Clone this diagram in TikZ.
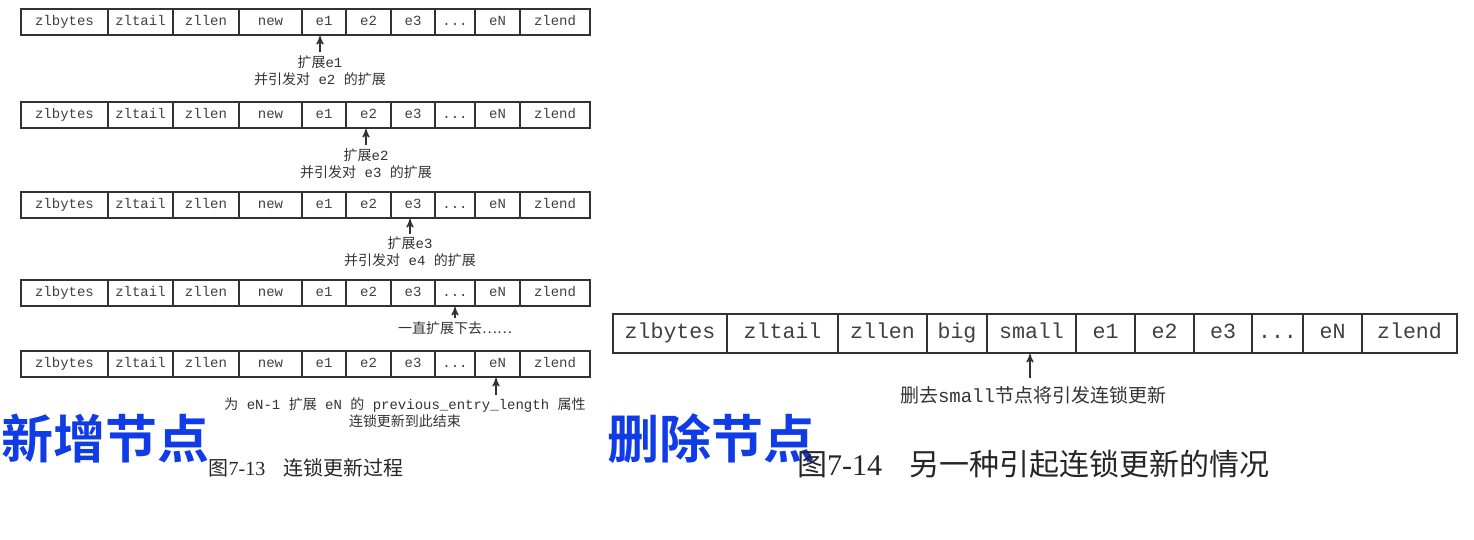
\documentclass[tikz,border=0pt]{standalone}
\usepackage{fontspec}
\setmainfont{Liberation Serif}
\setmonofont{Liberation Mono}
\newfontfamily\cjk[BoldFont={Noto Sans CJK SC Bold}]{Noto Sans CJK SC}
\usetikzlibrary{arrows}
\usetikzlibrary{positioning}

\definecolor{linegray}{RGB}{50,50,50}
\definecolor{titleblue}{RGB}{15,60,230}

\newcommand{\zh}[1]{{\cjk #1}}
\newcommand{\mdots}{.{}.{}.}

\tikzset{
  cell/.style={draw=linegray,line width=1pt,rectangle,inner sep=0pt,anchor=west,
    minimum height=13pt,text height=5pt,text depth=1.5pt,
    font=\ttfamily\fontsize{7}{8}\selectfont,text=black!75},
  bigcell/.style={cell,minimum height=19.5pt,text height=7.6pt,text depth=2.2pt,
    font=\ttfamily\fontsize{10.8}{12}\selectfont},
  note/.style={align=center,inner sep=1.5pt,text=black!80,
    font=\ttfamily\fontsize{7}{8.5}\selectfont},
  bignote/.style={note,inner sep=1.5pt,font=\ttfamily\fontsize{9.5}{11}\selectfont},
  bigtitle/.style={inner sep=0pt,text=titleblue,font=\cjk\bfseries\fontsize{26}{26}\selectfont},
  caption/.style={inner sep=0pt,text=black!85,font=\rmfamily\fontsize{10}{12}\selectfont},
  arr/.style={draw=linegray,line width=0.6pt,->,>=stealth'}
}

\begin{document}
\begin{tikzpicture}[x=0.5pt,y=-0.5pt]

  \useasboundingbox (0,0) rectangle (1474,540);

  % the five lists on the left
  \foreach \y [count=\r] in {22,115,205,293,364} {
    \foreach \a/\b/\t [count=\c] in {20/107/zlbytes,107/172/zltail,172/238/zllen,
        238/301/new,301/345/e1,345/390/e2,390/434/e3,434/474/\mdots,474/519/eN,519/589/zlend}
      \node [cell,minimum width={(\b-\a)*0.5pt}] (r\r-\c) at (\a,\y) {\t};
  }

  \node [note] (n1) at (320,70.5) {\zh{扩展}e1\\\zh{并引发对} e2 \zh{的扩展}};
  \node [note] (n2) at (366,163.5) {\zh{扩展}e2\\\zh{并引发对} e3 \zh{的扩展}};
  \node [note] (n3) at (410,252) {\zh{扩展}e3\\\zh{并引发对} e4 \zh{的扩展}};
  \node [note] (n4) at (455,328) {\zh{一直扩展下去……}};
  \node [note] (n5) at (405,412.5)
    {\zh{为} eN-1 \zh{扩展} eN \zh{的} previous\_entry\_length \zh{属性}\\\zh{连锁更新到此结束}};
  \coordinate (t5) at (496,395);

  \draw [arr] (n1.north) -- (n1.north |- r1-5.south);
  \draw [arr] (n2.north) -- (n2.north |- r2-6.south);
  \draw [arr] (n3.north) -- (n3.north |- r3-7.south);
  \draw [arr] (n4.north) -- (n4.north |- r4-8.south);
  \draw [arr] (t5) -- (t5 |- r5-9.south);

  % the list on the right
  \foreach \a/\b/\t [count=\c] in {612/726/zlbytes,726/837/zltail,837/926/zllen,
      926/986/big,986/1075/small,1075/1134/e1,1134/1193/e2,1193/1251/e3,
      1251/1302/\mdots,1302/1361/eN,1361/1456/zlend}
    \node [bigcell,minimum width={(\b-\a)*0.5pt}] (s\c) at (\a,333.5) {\t};

  \node [bignote] (n6) at (1033,395) {\zh{删去}small\zh{节点将引发连锁更新}};
  \coordinate (t6) at (1030,378);
  \draw [arr] (t6) -- (t6 |- s5.south);

  % titles and captions
  \node [bigtitle] (add) at (106,439) {新增节点};
  \node [bigtitle] (del) at (711,439) {删除节点};
  \node [caption] (cap1) at (306,468) {\zh{图}7-13\hspace{0.9em}\zh{连锁更新过程}};
  \node [caption,font=\rmfamily\fontsize{15}{17}\selectfont] (cap2) at (1033,464)
    {\zh{图}7-14\hspace{0.9em}\zh{另一种引起连锁更新的情况}};

\end{tikzpicture}
\end{document}
